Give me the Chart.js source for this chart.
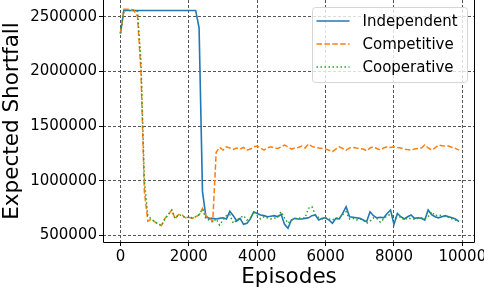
<!DOCTYPE html>
<html>
<head>
<meta charset="utf-8">
<script src="https://cdn.jsdelivr.net/npm/chart.js@4/dist/chart.umd.min.js"></script>
<style>
  html, body { margin: 0; padding: 0; background: #fff; }
  #grafico { display: block; }
</style>
</head>
<body>
<canvas id="grafico" width="484" height="290"></canvas>
<script>
// episodios (eixo x)
var episodes = [
    0, 100, 200, 300, 400, 500, 600, 700, 800, 900,
    1000, 1100, 1200, 1300, 1400, 1500, 1600, 1700, 1800, 1900,
    2000, 2100, 2200, 2300, 2400, 2500, 2600, 2700, 2800, 2900,
    3000, 3100, 3200, 3300, 3400, 3500, 3600, 3700, 3800, 3900,
    4000, 4100, 4200, 4300, 4400, 4500, 4600, 4700, 4800, 4900,
    5000, 5100, 5200, 5300, 5400, 5500, 5600, 5700, 5800, 5900,
    6000, 6100, 6200, 6300, 6400, 6500, 6600, 6700, 6800, 6900,
    7000, 7100, 7200, 7300, 7400, 7500, 7600, 7700, 7800, 7900,
    8000, 8100, 8200, 8300, 8400, 8500, 8600, 8700, 8800, 8900,
    9000, 9100, 9200, 9300, 9400, 9500, 9600, 9700, 9800, 9900
];

var independent = [
    2350000, 2560000, 2560000, 2560000, 2560000, 2560000, 2560000, 2560000, 2560000, 2560000,
    2560000, 2560000, 2560000, 2560000, 2560000, 2560000, 2560000, 2560000, 2560000, 2560000,
    2560000, 2560000, 2560000, 2400000, 900000, 670000, 655000, 655000, 650000, 655000,
    660000, 650000, 720000, 680000, 631000, 655000, 600000, 610000, 650000, 716000,
    700000, 686000, 680000, 670000, 675000, 680000, 670000, 692000, 600000, 564000,
    640000, 655000, 650000, 650000, 655000, 660000, 680000, 686000, 640000, 655000,
    660000, 640000, 610000, 655000, 650000, 700000, 762000, 670000, 665000, 660000,
    655000, 640000, 625000, 716000, 680000, 660000, 665000, 660000, 700000, 732000,
    600000, 700000, 670000, 650000, 670000, 686000, 655000, 660000, 655000, 640000,
    732000, 690000, 670000, 660000, 670000, 680000, 670000, 660000, 650000, 625000
];

var competitive = [
    2350000, 2570000, 2570000, 2570000, 2560000, 2500000, 2000000, 900000, 630000, 650000,
    625000, 600000, 590000, 655000, 690000, 732000, 650000, 690000, 686000, 661000,
    665000, 655000, 670000, 686000, 747000, 680000, 655000, 630000, 1260000, 1306000,
    1281000, 1311000, 1300000, 1287000, 1300000, 1290000, 1305000, 1280000, 1290000, 1310000,
    1318000, 1300000, 1281000, 1300000, 1311000, 1300000, 1296000, 1310000, 1327000, 1310000,
    1290000, 1300000, 1305000, 1318000, 1300000, 1336000, 1315000, 1305000, 1300000, 1295000,
    1290000, 1280000, 1266000, 1290000, 1311000, 1295000, 1281000, 1300000, 1305000, 1300000,
    1296000, 1290000, 1275000, 1300000, 1311000, 1295000, 1281000, 1300000, 1311000, 1305000,
    1311000, 1305000, 1300000, 1290000, 1285000, 1281000, 1290000, 1296000, 1300000, 1327000,
    1300000, 1281000, 1300000, 1327000, 1320000, 1318000, 1318000, 1305000, 1296000, 1281000
];

var cooperative = [
    2350000, 2560000, 2560000, 2560000, 2560000, 2550000, 2100000, 1000000, 680000, 650000,
    625000, 605000, 590000, 650000, 690000, 730000, 655000, 690000, 680000, 660000,
    665000, 660000, 670000, 690000, 740000, 650000, 640000, 620000, 650000, 594000,
    640000, 680000, 690000, 610000, 640000, 660000, 680000, 640000, 660000, 716000,
    680000, 650000, 670000, 660000, 650000, 655000, 670000, 716000, 660000, 610000,
    640000, 650000, 660000, 655000, 660000, 747000, 762000, 690000, 660000, 650000,
    660000, 650000, 640000, 660000, 655000, 690000, 716000, 650000, 655000, 640000,
    650000, 640000, 610000, 630000, 660000, 655000, 620000, 650000, 680000, 690000,
    670000, 660000, 670000, 640000, 660000, 650000, 650000, 655000, 660000, 650000,
    670000, 716000, 680000, 686000, 680000, 670000, 665000, 650000, 640000, 630000
];

var xTicks = [0, 2000, 4000, 6000, 8000, 10000];
var yTicks = [500000, 1000000, 1500000, 2000000, 2500000];

var FONTE = "'DejaVu Sans', sans-serif";

function pontos(vals) {
    var out = [];
    for (var i = 0; i < episodes.length; i++) out.push({ x: episodes[i], y: vals[i] });
    return out;
}

function fixaTicks(lista) {
    return function (scale) {
        scale.ticks = lista.map(function (v) { return { value: v }; });
    };
}

function semSeparador(v) { return String(v); }

// moldura (eixos esquerdo, inferior e direito)
var moldura = {
    id: 'moldura',
    afterDraw: function (chart) {
        var a = chart.chartArea, ctx = chart.ctx;
        ctx.save();
        ctx.strokeStyle = '#000';
        ctx.lineWidth = 1;
        ctx.setLineDash([]);
        ctx.beginPath();
        ctx.moveTo(a.left + 0.5, a.top);
        ctx.lineTo(a.left + 0.5, a.bottom + 0.5);
        ctx.lineTo(a.right - 0.5, a.bottom + 0.5);
        ctx.lineTo(a.right - 0.5, a.top);
        ctx.stroke();
        ctx.restore();
    }
};

// legenda no estilo matplotlib
var legenda = {
    id: 'legenda',
    afterDraw: function (chart) {
        var a = chart.chartArea, ctx = chart.ctx;
        var x0 = a.right - 162.5, y0 = a.top + 7.5, w = 155, h = 75, r = 3;
        ctx.save();
        ctx.beginPath();
        ctx.moveTo(x0 + r, y0);
        ctx.arcTo(x0 + w, y0, x0 + w, y0 + h, r);
        ctx.arcTo(x0 + w, y0 + h, x0, y0 + h, r);
        ctx.arcTo(x0, y0 + h, x0, y0, r);
        ctx.arcTo(x0, y0, x0 + w, y0, r);
        ctx.closePath();
        ctx.fillStyle = 'rgba(255,255,255,0.8)';
        ctx.fill();
        ctx.strokeStyle = '#d6d6d6';
        ctx.lineWidth = 1;
        ctx.stroke();

        ctx.font = '15px ' + FONTE;
        ctx.textBaseline = 'middle';
        ctx.fillStyle = '#000';
        chart.data.datasets.forEach(function (ds, i) {
            var y = y0 + 13.5 + i * 23;
            ctx.strokeStyle = ds.borderColor;
            ctx.lineWidth = ds.borderWidth;
            ctx.setLineDash(ds.borderDash || []);
            ctx.beginPath();
            ctx.moveTo(x0 + 4, y);
            ctx.lineTo(x0 + 37, y);
            ctx.stroke();
            ctx.setLineDash([]);
            ctx.fillText(ds.label, x0 + 50, y + 1);
        });
        ctx.restore();
    }
};

var chart = new Chart(document.getElementById('grafico'), {
    type: 'line',
    data: {
        datasets: [
            { label: 'Independent', data: pontos(independent), borderColor: '#1f77b4', borderWidth: 1.6, pointRadius: 0, tension: 0, fill: false, order: 3 },
            { label: 'Competitive', data: pontos(competitive), borderColor: '#ff7f0e', borderWidth: 1.5, borderDash: [5.5, 2.4], pointRadius: 0, tension: 0, fill: false, order: 2 },
            { label: 'Cooperative', data: pontos(cooperative), borderColor: '#2ca02c', borderWidth: 1.5, borderDash: [1.5, 2.5], pointRadius: 0, tension: 0, fill: false, order: 1 }
        ]
    },
    options: {
        responsive: false,
        animation: false,
        devicePixelRatio: 1,
        layout: { padding: { top: 0, right: 9, left: 0, bottom: 0 } },
        plugins: { legend: { display: false }, tooltip: { enabled: false } },
        scales: {
            x: {
                type: 'linear',
                min: -510, max: 10370,
                afterBuildTicks: fixaTicks(xTicks),
                afterFit: function (s) { s.height = 48; s.paddingLeft = 0; s.paddingRight = 0; },
                grid: { color: '#555', lineWidth: 1, tickColor: '#000', tickLength: 4, drawTicks: true },
                border: { display: false, dash: [3, 2] },
                ticks: { color: '#000', font: { family: FONTE, size: 15 }, padding: 2, maxRotation: 0, autoSkip: false, callback: semSeparador },
                title: { display: true, text: 'Episodes', color: '#000', font: { family: FONTE, size: 21.5 }, padding: { top: 3, bottom: 0 } }
            },
            y: {
                type: 'linear',
                min: 438600, max: 2655750,
                afterBuildTicks: fixaTicks(yTicks),
                afterFit: function (s) { s.width = 103; s.paddingTop = 0; s.paddingBottom = 0; },
                grid: { color: '#555', lineWidth: 1, tickColor: '#000', tickLength: 4, drawTicks: true },
                border: { display: false, dash: [3, 2] },
                ticks: { color: '#000', font: { family: FONTE, size: 15 }, padding: 2, autoSkip: false, callback: semSeparador },
                title: { display: true, text: 'Expected Shortfall', color: '#000', font: { family: FONTE, size: 21.5 }, padding: { top: 0, bottom: 0 } }
            }
        }
    },
    plugins: [moldura, legenda]
});
</script>
</body>
</html>
